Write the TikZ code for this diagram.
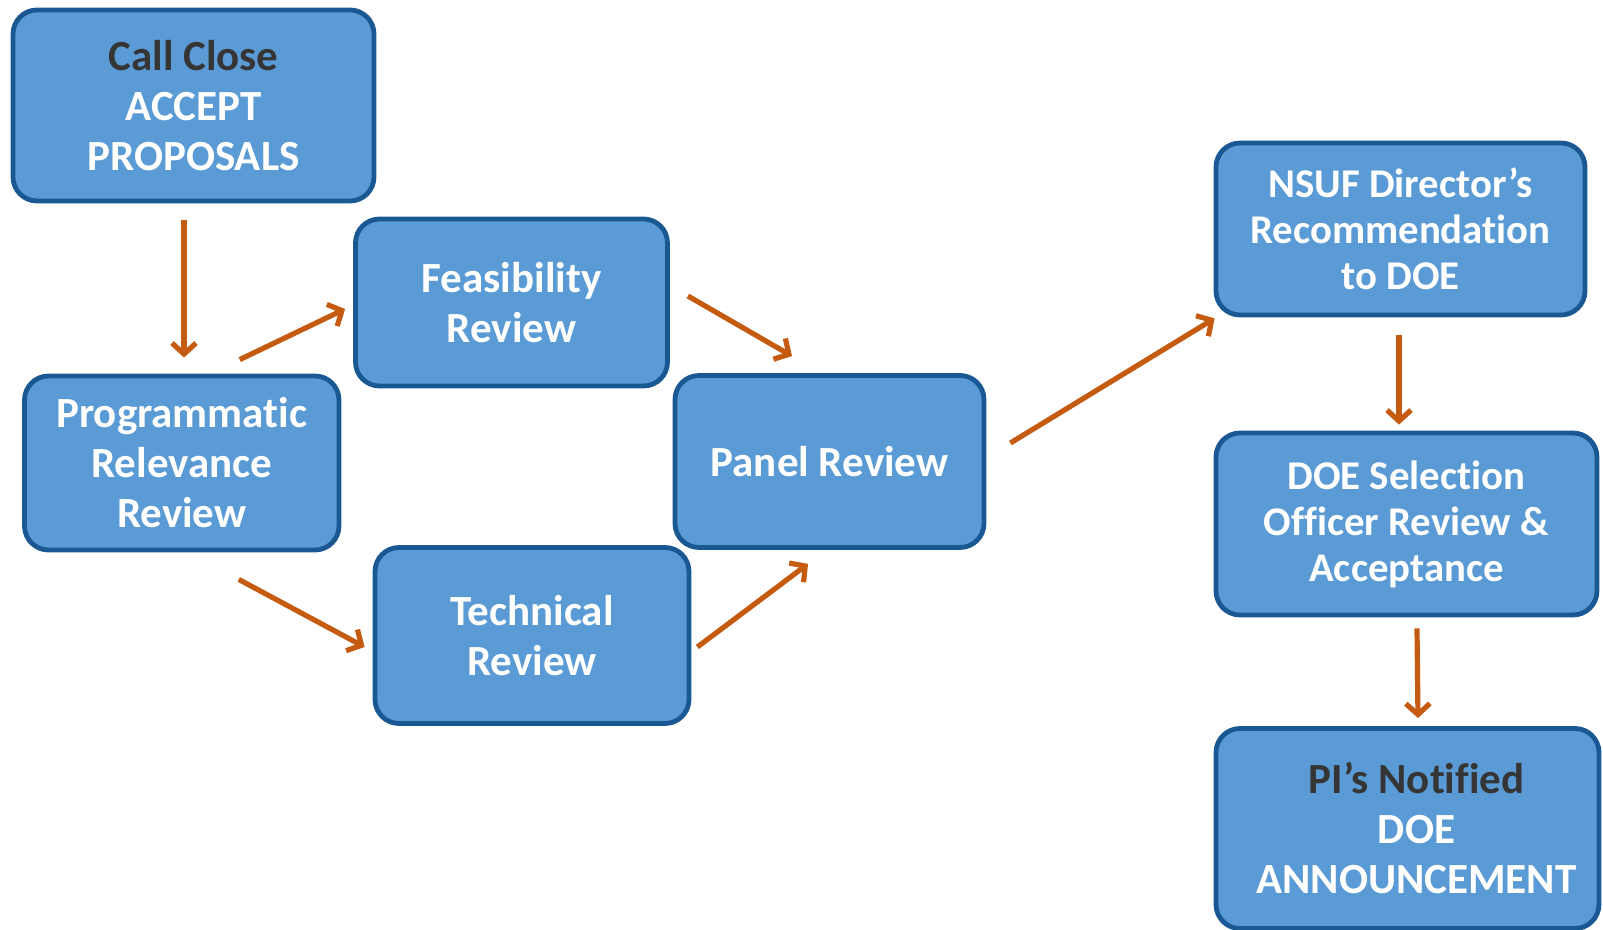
\documentclass[tikz,border=0pt]{standalone}
\usepackage{fontspec}
\setmainfont{Carlito}[Ligatures=NoCommon]
\usetikzlibrary{arrows.meta}
\definecolor{boxfill}{HTML}{5B9BD5}
\definecolor{boxline}{HTML}{1A5893}
\definecolor{flowline}{HTML}{C55A11}
\definecolor{txtdark}{HTML}{353535}
\newcommand{\padtxt}{\hspace*{9pt}}
\tikzset{
    stagebox/.style={draw=boxline, line width=2.4pt, fill=boxfill, rounded corners=12pt,
        text=white, align=center, inner sep=0pt,
        font=\bfseries\fontsize{21.5}{25}\selectfont},
    smallbox/.style={stagebox, font=\bfseries\fontsize{20.4}{23}\selectfont},
    flow/.style={draw=flowline, line width=2.6pt,
        -{Straight Barb[length=5.5pt,width=12pt,line width=2.6pt]}}
}
\begin{document}
\begin{tikzpicture}[x=0.5pt, y=-0.5pt]
        \useasboundingbox (0,0) rectangle (1603,930);
        \node[stagebox, minimum width=180.5pt, minimum height=95.5pt] (call) at (193.5,105.5)
            {\textcolor{txtdark}{Call Close}\\ACCEPT\\PROPOSALS};
        \node[stagebox, minimum width=157.25pt, minimum height=87pt] (prog) at (181.75,463)
            {Programmatic\\Relevance\\Review};
        \node[stagebox, minimum width=156pt, minimum height=83.5pt] (feas) at (511.5,302.5)
            {Feasibility\\Review};
        \node[stagebox, minimum width=157pt, minimum height=88pt] (tech) at (532,635.5)
            {Technical\\Review};
        \node[stagebox, minimum width=154.5pt, minimum height=86pt] (panel) at (829.5,461.5)
            {Panel Review};
        \node[smallbox, minimum width=184.5pt, minimum height=86pt] (nsuf) at (1400.5,229)
            {NSUF Director’s\\Recommendation\\to DOE};
        \node[smallbox, minimum width=190.5pt, minimum height=91pt] (doe) at (1406.5,524)
            {DOE Selection\\Officer Review \&\\Acceptance};
        \node[stagebox, minimum width=191.5pt, minimum height=100pt] (pi) at (1407.5,828.5)
            {\padtxt\textcolor{txtdark}{PI’s Notified}\\\padtxt DOE\\\padtxt ANNOUNCEMENT};
        \draw[flow] ([shift={(-9.5,17)}]call.south) -- ([shift={(2.25,-16)}]prog.north);
        \draw[flow] ([shift={(58,-14)}]prog.north) -- ([shift={(-8,6.5)}]feas.west);
        \draw[flow] ([shift={(57,27)}]prog.south) -- ([shift={(-8,11.5)}]tech.west);
        \draw[flow] ([shift={(18,-6.5)}]feas.east) -- ([shift={(-37.5,-17)}]panel.north);
        \draw[flow] ([shift={(6,11.5)}]tech.east) -- ([shift={(-21.5,14)}]panel.south);
        \draw[flow] ([shift={(24,-18.5)}]panel.east) -- ([shift={(1,1)}]nsuf.south west);
        \draw[flow] ([shift={(-1.5,18)}]nsuf.south) -- ([shift={(-7.5,-6)}]doe.north);
        \draw[flow] ([shift={(10.5,11)}]doe.south) -- ([shift={(10.5,-8)}]pi.north);
    \end{tikzpicture}
\end{document}
